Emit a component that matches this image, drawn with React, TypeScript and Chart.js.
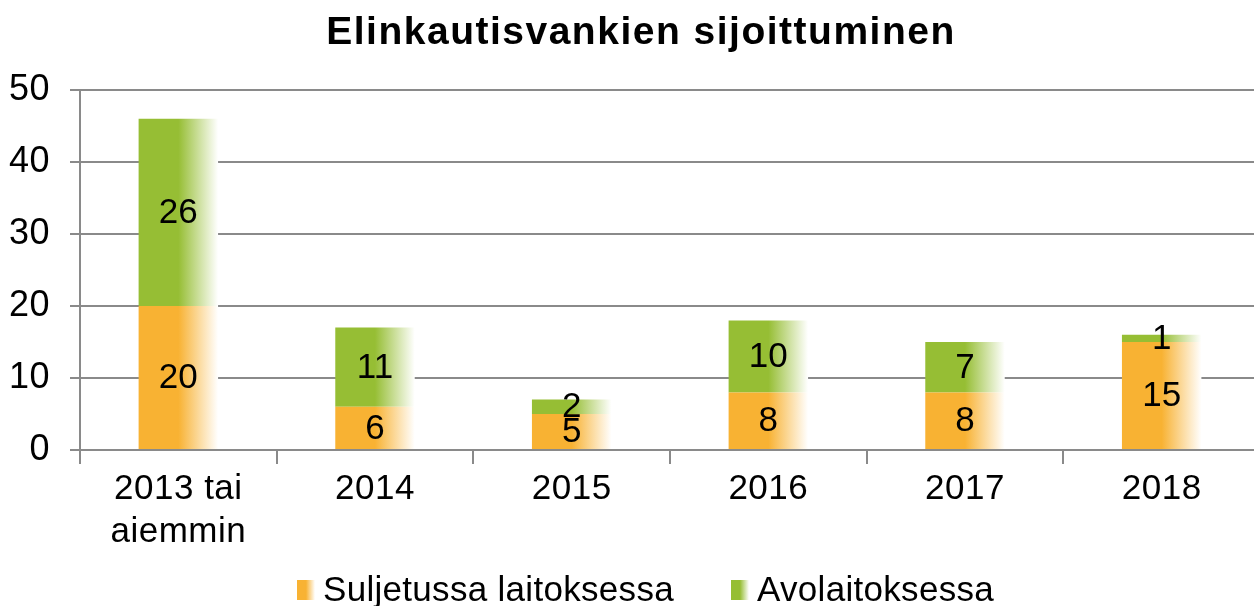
import React, { useEffect, useRef } from 'react';
import { Chart, registerables } from 'chart.js';

Chart.register(...registerables);

const chartTitle = 'Elinkautisvankien sijoittuminen';
const categories: (string | string[])[] = [['2013 tai', 'aiemmin'], '2014', '2015', '2016', '2017', '2018'];
const suljetussa = [20, 6, 5, 8, 8, 15];
const avolaitoksessa = [26, 11, 2, 10, 7, 1];
const seriesNames = ['Suljetussa laitoksessa', 'Avolaitoksessa'];
const seriesColors = ['#F8B233', '#96BE34'];
const yTicks = [0, 10, 20, 30, 40, 50];

const W = 1260;
const H = 606;
const BAR_PCT = 0.404;
const FONT = '"Liberation Sans", Arial, sans-serif';

function fade(c: CanvasRenderingContext2D, x0: number, x1: number, color: string) {
  const g = c.createLinearGradient(x0, 0, x1, 0);
  g.addColorStop(0, color);
  g.addColorStop(0.5, color);
  g.addColorStop(1, '#ffffff');
  return g;
}

function barFill(color: string) {
  return (ctx: any) => {
    const chart = ctx.chart;
    const xs = chart.scales && chart.scales.x;
    if (!chart.chartArea || !xs || typeof ctx.dataIndex !== 'number') return color;
    const cx = xs.getPixelForValue(ctx.dataIndex);
    const w = (xs.width / categories.length) * BAR_PCT;
    return fade(chart.ctx, cx - w / 2, cx + w / 2, color);
  };
}

const spacingPlugin = {
  id: 'spacing',
  beforeUpdate(chart: any) {
    chart.ctx.letterSpacing = '0.5px';
  },
  beforeDraw(chart: any) {
    chart.ctx.letterSpacing = '0.5px';
  },
};

const labelsPlugin = {
  id: 'valueLabels',
  afterDatasetsDraw(chart: any) {
    const c: CanvasRenderingContext2D = chart.ctx;
    c.save();
    c.letterSpacing = '0px';
    c.font = `35px ${FONT}`;
    c.fillStyle = '#000000';
    c.textAlign = 'center';
    c.textBaseline = 'middle';
    chart.data.datasets.forEach((ds: any, i: number) => {
      const meta = chart.getDatasetMeta(i);
      meta.data.forEach((el: any, j: number) => {
        const p = el.getProps(['x', 'y', 'base'], true);
        c.fillText(String(ds.data[j]), p.x, (p.y + p.base) / 2 + 1);
      });
    });
    c.restore();
  },
};

const titleLegendPlugin = {
  id: 'titleLegend',
  afterDraw(chart: any) {
    const c: CanvasRenderingContext2D = chart.ctx;
    c.save();
    c.fillStyle = '#000000';
    c.letterSpacing = '1.5px';
    c.font = `bold 39px ${FONT}`;
    c.textAlign = 'center';
    c.textBaseline = 'alphabetic';
    c.fillText(chartTitle, 641, 44);

    const markerX = [297, 731];
    c.letterSpacing = '0.3px';
    c.font = `35px ${FONT}`;
    c.textAlign = 'left';
    seriesNames.forEach((name, i) => {
      const mx = markerX[i];
      c.fillStyle = fade(c, mx, mx + 18, seriesColors[i]);
      c.fillRect(mx, 580, 18, 20);
      c.fillStyle = '#000000';
      c.fillText(name, mx + 26, 601);
    });
    c.restore();
  },
};

export default function App() {
  const ref = useRef<HTMLCanvasElement | null>(null);

  useEffect(() => {
    if (!ref.current) return;
    const chart = new Chart(ref.current, {
      type: 'bar',
      data: {
        labels: categories,
        datasets: [
          {
            label: seriesNames[0],
            data: suljetussa,
            backgroundColor: barFill(seriesColors[0]),
            borderWidth: 0,
            categoryPercentage: 1,
            barPercentage: BAR_PCT,
          },
          {
            label: seriesNames[1],
            data: avolaitoksessa,
            backgroundColor: barFill(seriesColors[1]),
            borderWidth: 0,
            categoryPercentage: 1,
            barPercentage: BAR_PCT,
          },
        ],
      },
      options: {
        responsive: false,
        animation: false,
        devicePixelRatio: 1,
        layout: { padding: { top: 90, left: 0, right: 0, bottom: 0 } },
        plugins: {
          legend: { display: false },
          title: { display: false },
          tooltip: { enabled: false },
        },
        scales: {
          x: {
            stacked: true,
            ticks: {
              color: '#000000',
              font: { family: FONT, size: 35, lineHeight: 1.22 },
              padding: 4,
              maxRotation: 0,
              autoSkip: false,
            },
            grid: {
              drawOnChartArea: false,
              drawTicks: true,
              tickLength: 14,
              color: '#8a8a8a',
              lineWidth: 2,
              offset: true,
            },
            border: { color: '#8a8a8a', width: 2 },
            afterFit: (s: any) => {
              s.height = 156;
            },
          },
          y: {
            stacked: true,
            min: 0,
            max: 50,
            ticks: {
              color: '#000000',
              font: { family: FONT, size: 36 },
              padding: 20,
            },
            afterBuildTicks: (s: any) => {
              s.ticks = yTicks.map((v) => ({ value: v }));
            },
            grid: { color: '#8a8a8a', lineWidth: 2, tickLength: 10, drawTicks: true },
            border: { color: '#8a8a8a', width: 2 },
            afterFit: (s: any) => {
              s.width = 80;
            },
          },
        },
      },
      plugins: [spacingPlugin, labelsPlugin, titleLegendPlugin],
    });
    return () => chart.destroy();
  }, []);

  return (
    <div
      style={{
        position: 'fixed',
        left: 0,
        top: 0,
        width: 1254,
        height: 606,
        overflow: 'hidden',
        background: '#ffffff',
      }}
    >
      <canvas ref={ref} width={W} height={H} style={{ width: W, height: H, display: 'block' }} />
    </div>
  );
}
